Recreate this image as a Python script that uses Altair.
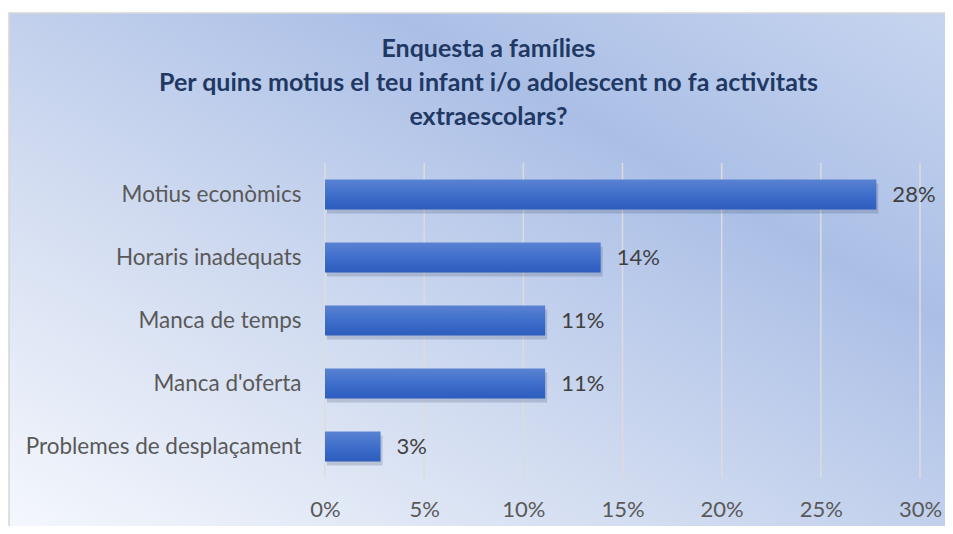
import altair as alt
import pandas as pd

categories = ["Motius econòmics", "Horaris inadequats", "Manca de temps",
              "Manca d'oferta", "Problemes de desplaçament"]
values = [0.278, 0.139, 0.111, 0.111, 0.028]
tick_values = [0.0, 0.05, 0.10, 0.15, 0.20, 0.25, 0.30]
title_lines = ["Enquesta a famílies",
               "Per quins motius el teu infant i/o adolescent no fa activitats",
               "extraescolars?"]

df = pd.DataFrame({"motiu": categories, "pct": values})
grid_df = pd.DataFrame({"t": tick_values})

W, H = 595, 315
PL, PT, PR, PB = 317, 155, 25, 48

FONT = "Lato"

xscale = alt.Scale(domain=[0, 0.30], nice=False)
yscale = alt.Scale(paddingInner=0.52, paddingOuter=0.26)

xaxis = alt.Axis(title=None, values=tick_values, format=".0%", grid=False,
                 domain=False, ticks=False, labelPadding=21, labelFont=FONT,
                 labelFontSize=22, labelColor="#595959", labelFlush=False,
                 labelOverlap=False, zindex=1)

bg = alt.Chart(alt.Data(values=[{}])).mark_rect(
    fill=alt.LinearGradient(
        gradient="linear", x1=0, y1=1, x2=1, y2=0,
        stops=[alt.GradientStop(offset=0, color="#f5f8fd"),
               alt.GradientStop(offset=0.35, color="#d3ddf1"),
               alt.GradientStop(offset=0.7, color="#abbfe6"),
               alt.GradientStop(offset=1, color="#c7d5ef")]),
    stroke="#d6d6d6", strokeWidth=1.5,
).encode(x=alt.value(-PL + 1), x2=alt.value(W + PR + 10),
         y=alt.value(-PT + 5), y2=alt.value(H + PB + 10))

grid = alt.Chart(grid_df).mark_rule(color="#dcdcdc", strokeWidth=1.5).encode(
    x=alt.X("t:Q", scale=xscale, axis=xaxis),
    y=alt.value(0), y2=alt.value(H))

base = alt.Chart(df).encode(
    y=alt.Y("motiu:N", sort=categories, scale=yscale,
            axis=alt.Axis(title=None, ticks=False, domain=False, grid=False,
                          labelPadding=24, labelFont=FONT, labelFontSize=22.5,
                          labelColor="#595959", labelLimit=400, zindex=1)),
)

shadow = base.mark_bar(color="#1a2a50", opacity=0.18, xOffset=2, x2Offset=4,
                       yOffset=4, y2Offset=4).encode(
    x=alt.X("pct:Q", scale=xscale, axis=xaxis))

bars = base.mark_bar(
    color=alt.LinearGradient(
        gradient="linear", x1=0, y1=0, x2=0, y2=1,
        stops=[alt.GradientStop(offset=0, color="#5a82d2"),
               alt.GradientStop(offset=0.5, color="#3f6fcb"),
               alt.GradientStop(offset=1, color="#2c5cbd")]),
).encode(x=alt.X("pct:Q", scale=xscale, axis=xaxis))

labels = base.mark_text(align="left", baseline="middle", dx=16, font=FONT,
                        fontSize=22, color="#404040").encode(
    x=alt.X("pct:Q", scale=xscale, axis=xaxis),
    text=alt.Text("pct:Q", format=".0%"))

chart = alt.layer(bg, grid, shadow, bars, labels).properties(
    width=W, height=H,
    padding={"left": PL, "top": PT, "right": PR, "bottom": PB},
    autosize=alt.AutoSizeParams(type="none"),
    background="white",
    title=alt.TitleParams(title_lines, font=FONT, fontSize=25,
                          fontWeight="bold", color="#1f3864", lineHeight=34,
                          anchor="middle", frame="group", dx=-134, dy=118,
                          offset=0, zindex=1),
).configure_view(stroke=None)

chart.save("out.html", embed_options={"renderer": "svg", "actions": False})
